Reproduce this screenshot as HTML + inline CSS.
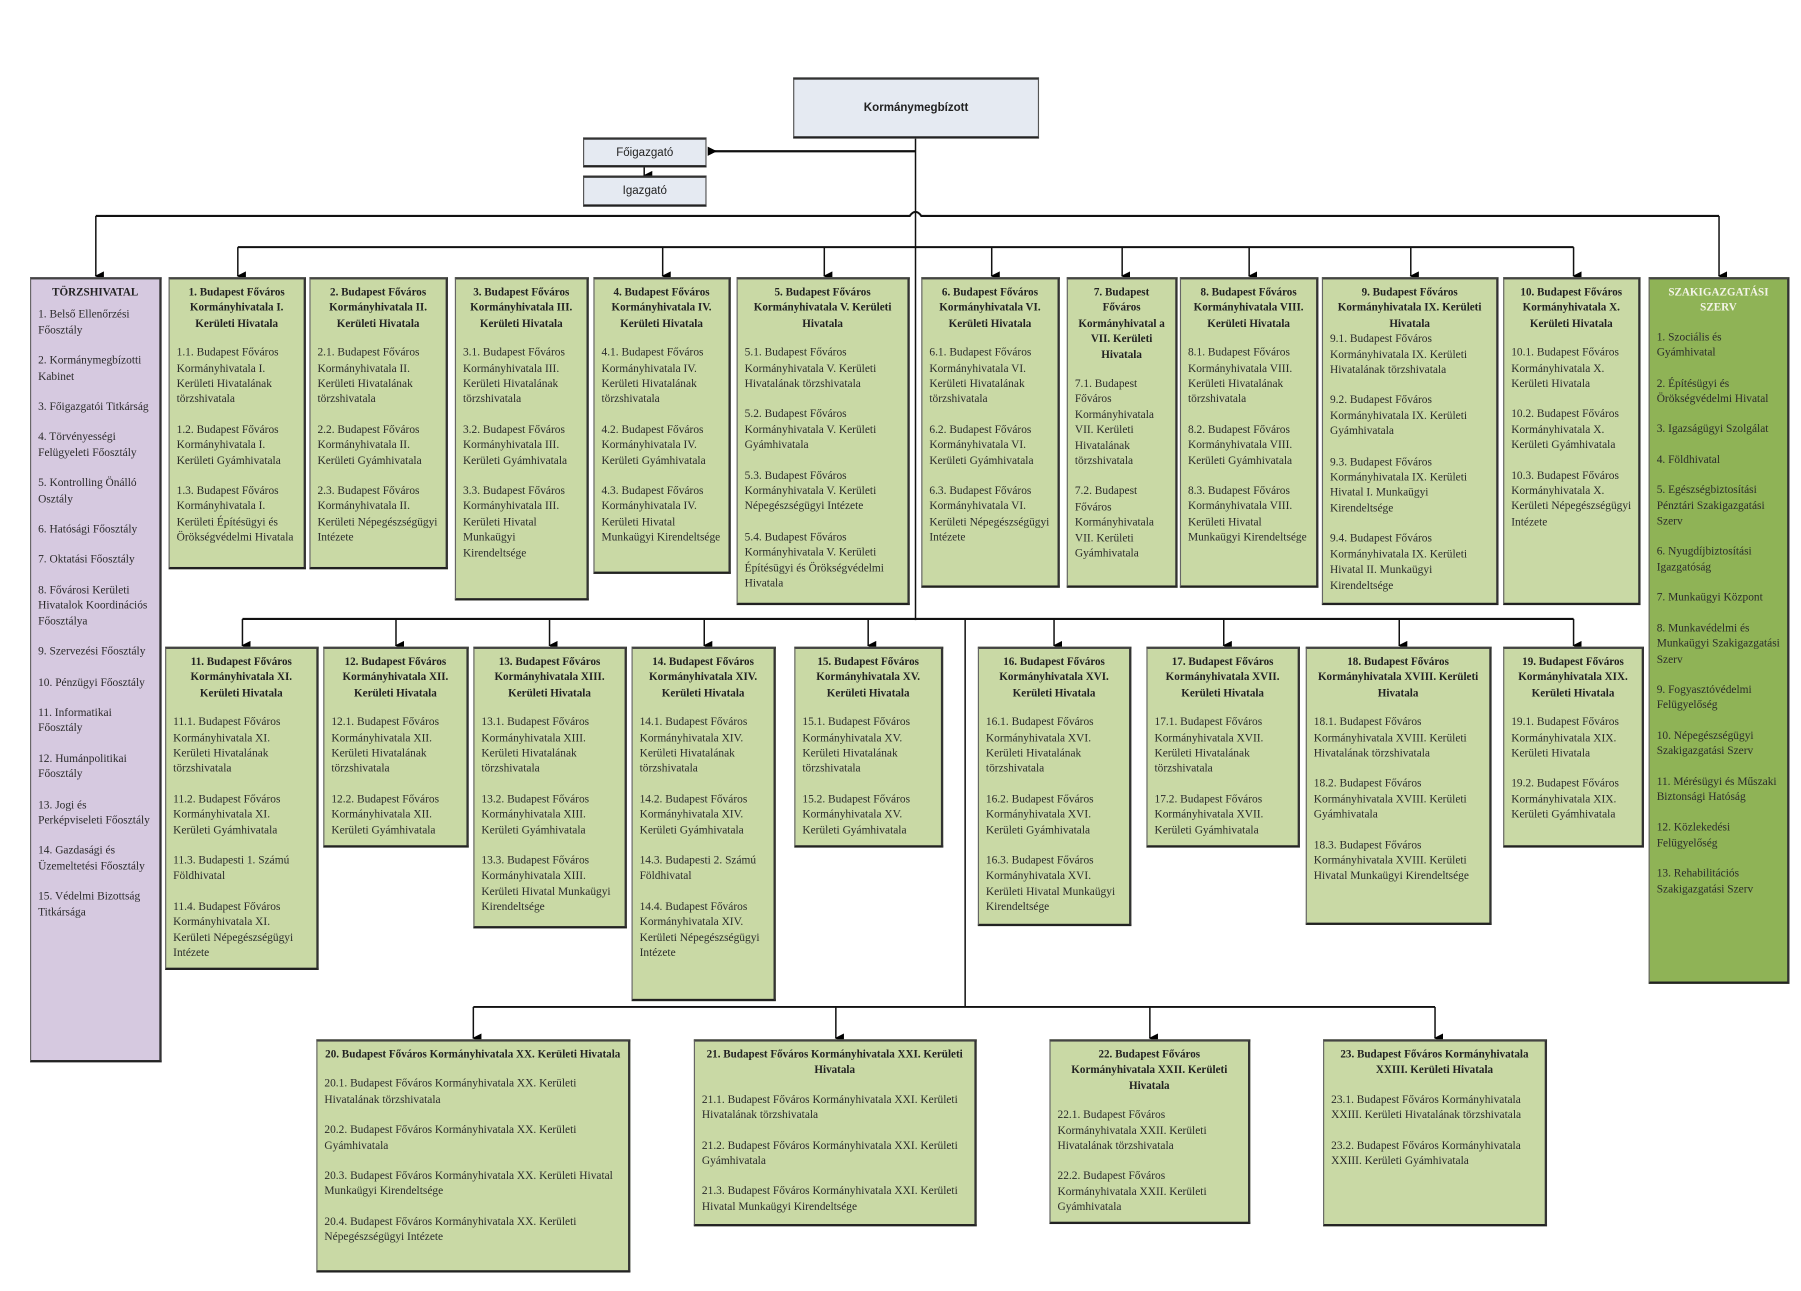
<!DOCTYPE html>
<html><head><meta charset="utf-8"><style>
html,body{margin:0;padding:0;background:#fff;}
body{width:1801px;height:1291px;overflow:hidden;position:relative;}
#c{position:absolute;left:0;top:0;width:1560px;height:1118px;transform:scale(1.15449,1.15474);transform-origin:0 0;}
.b{position:absolute;box-sizing:border-box;border:1px solid #666;border-top:2px solid #444;border-bottom:2px solid #222;border-right:2px solid #333;background:#c9d9a5;padding:5px 6px;font-family:"Liberation Serif",serif;font-size:9.9px;line-height:13.4px;color:#2a2a2a;overflow:hidden;}
.b .t{font-weight:bold;text-align:center;color:#222;font-size:9.6px;}
.b p{margin:13px 0 0 0;}
.b .t + p{margin-top:12px;}
.pu{background:#d6c9e0;}
.dg{background:#8fb356;}
.lb{position:absolute;box-sizing:border-box;border:1px solid #555;border-top:2px solid #333;border-bottom:2px solid #222;background:#e5eaf2;font-family:"Liberation Sans",sans-serif;font-size:10px;display:flex;align-items:center;justify-content:center;color:#222;}
svg{position:absolute;left:0;top:0;}
</style></head><body><div id="c">
<svg width="1560" height="1118" viewBox="0 0 1560 1118">
<defs><marker id="a" markerWidth="8" markerHeight="8" refX="4" refY="7" orient="auto" markerUnits="userSpaceOnUse"><path d="M0,0 L8,0 L4,8 z" fill="#000"/></marker>
<marker id="l" markerWidth="8" markerHeight="8" refX="7" refY="4" orient="auto" markerUnits="userSpaceOnUse"><path d="M8,0 L8,8 L0,4 z" fill="#000"/></marker></defs>
<g stroke="#111" stroke-width="1.3" fill="none">
<line x1="793" y1="120" x2="793" y2="537"/>
<line x1="793" y1="131" x2="614" y2="131" marker-end="url(#l)" stroke-width="2"/>
<line x1="558" y1="145" x2="558" y2="152" marker-end="url(#a)"/>
<path d="M83,187 H788 Q793,180 798,187 H1489" stroke-width="1.8"/>
<line x1="83" y1="187" x2="83" y2="239" marker-end="url(#a)"/>
<line x1="1489" y1="187" x2="1489" y2="239" marker-end="url(#a)"/>
<line x1="206" y1="214" x2="1363" y2="214" stroke-width="1.8"/>
<line x1="206" y1="214" x2="206" y2="239" marker-end="url(#a)"/>
<line x1="574" y1="214" x2="574" y2="239" marker-end="url(#a)"/>
<line x1="714" y1="214" x2="714" y2="239" marker-end="url(#a)"/>
<line x1="859" y1="214" x2="859" y2="239" marker-end="url(#a)"/>
<line x1="972" y1="214" x2="972" y2="239" marker-end="url(#a)"/>
<line x1="1082" y1="214" x2="1082" y2="239" marker-end="url(#a)"/>
<line x1="1222" y1="214" x2="1222" y2="239" marker-end="url(#a)"/>
<line x1="1363" y1="214" x2="1363" y2="239" marker-end="url(#a)"/>
<line x1="210" y1="536" x2="1363" y2="536" stroke-width="1.8"/>
<line x1="210" y1="536" x2="210" y2="559" marker-end="url(#a)"/>
<line x1="343" y1="536" x2="343" y2="559" marker-end="url(#a)"/>
<line x1="476" y1="536" x2="476" y2="559" marker-end="url(#a)"/>
<line x1="610" y1="536" x2="610" y2="559" marker-end="url(#a)"/>
<line x1="752" y1="536" x2="752" y2="559" marker-end="url(#a)"/>
<line x1="913" y1="536" x2="913" y2="559" marker-end="url(#a)"/>
<line x1="1060" y1="536" x2="1060" y2="559" marker-end="url(#a)"/>
<line x1="1212" y1="536" x2="1212" y2="559" marker-end="url(#a)"/>
<line x1="1363" y1="536" x2="1363" y2="559" marker-end="url(#a)"/>
<line x1="836" y1="536" x2="836" y2="872"/>
<line x1="410" y1="872" x2="1243" y2="872" stroke-width="1.6"/>
<line x1="410" y1="872" x2="410" y2="899" marker-end="url(#a)"/>
<line x1="724" y1="872" x2="724" y2="899" marker-end="url(#a)"/>
<line x1="996" y1="872" x2="996" y2="899" marker-end="url(#a)"/>
<line x1="1243" y1="872" x2="1243" y2="899" marker-end="url(#a)"/>
</g></svg>

<div class="lb" style="left:687px;top:67px;width:213px;height:53px;font-weight:bold;">Kormánymegbízott</div>
<div class="lb" style="left:505px;top:119px;width:107px;height:26px;">Főigazgató</div>
<div class="lb" style="left:505px;top:152px;width:107px;height:27px;">Igazgató</div>

<div class="b pu" style="left:26px;top:240px;width:114px;height:680px;"><div class="t">TÖRZSHIVATAL</div>
<p style="margin-top:6px">1. Belső Ellenőrzési Főosztály</p><p>2. Kormánymegbízotti Kabinet</p><p>3. Főigazgatói Titkárság</p><p>4. Törvényességi Felügyeleti Főosztály</p><p>5. Kontrolling Önálló Osztály</p><p>6. Hatósági Főosztály</p><p>7. Oktatási Főosztály</p><p>8. Fővárosi Kerületi Hivatalok Koordinációs Főosztálya</p><p>9. Szervezési Főosztály</p><p>10. Pénzügyi Főosztály</p><p>11. Informatikai Főosztály</p><p>12. Humánpolitikai Főosztály</p><p>13. Jogi és Perképviseleti Főosztály</p><p>14. Gazdasági és Üzemeltetési Főosztály</p><p>15. Védelmi Bizottság Titkársága</p></div>

<div class="b dg" style="left:1428px;top:240px;width:122px;height:612px;"><div class="t" style="color:#f4f4e8">SZAKIGAZGATÁSI SZERV</div>
<p>1. Szociális és Gyámhivatal</p><p>2. Építésügyi és Örökségvédelmi Hivatal</p><p>3. Igazságügyi Szolgálat</p><p>4. Földhivatal</p><p>5. Egészségbiztosítási Pénztári Szakigazgatási Szerv</p><p>6. Nyugdíjbiztosítási Igazgatóság</p><p>7. Munkaügyi Központ</p><p>8. Munkavédelmi és Munkaügyi Szakigazgatási Szerv</p><p>9. Fogyasztóvédelmi Felügyelőség</p><p>10. Népegészségügyi Szakigazgatási Szerv</p><p>11. Mérésügyi és Műszaki Biztonsági Hatóság</p><p>12. Közlekedési Felügyelőség</p><p>13. Rehabilitációs Szakigazgatási Szerv</p></div>

<div class="b" style="left:146px;top:240px;width:119px;height:253px;"><div class="t">1. Budapest Főváros Kormányhivatala I. Kerületi Hivatala</div>
<p>1.1. Budapest Főváros Kormányhivatala I. Kerületi Hivatalának törzshivatala</p><p>1.2. Budapest Főváros Kormányhivatala I. Kerületi Gyámhivatala</p><p>1.3. Budapest Főváros Kormányhivatala I. Kerületi Építésügyi és Örökségvédelmi Hivatala</p></div>

<div class="b" style="left:268px;top:240px;width:120px;height:253px;"><div class="t">2. Budapest Főváros Kormányhivatala II. Kerületi Hivatala</div>
<p>2.1. Budapest Főváros Kormányhivatala II. Kerületi Hivatalának törzshivatala</p><p>2.2. Budapest Főváros Kormányhivatala II. Kerületi Gyámhivatala</p><p>2.3. Budapest Főváros Kormányhivatala II. Kerületi Népegészségügyi Intézete</p></div>

<div class="b" style="left:394px;top:240px;width:116px;height:280px;"><div class="t">3. Budapest Főváros Kormányhivatala III. Kerületi Hivatala</div>
<p>3.1. Budapest Főváros Kormányhivatala III. Kerületi Hivatalának törzshivatala</p><p>3.2. Budapest Főváros Kormányhivatala III. Kerületi Gyámhivatala</p><p>3.3. Budapest Főváros Kormányhivatala III. Kerületi Hivatal Munkaügyi Kirendeltsége</p></div>

<div class="b" style="left:514px;top:240px;width:119px;height:257px;"><div class="t">4. Budapest Főváros Kormányhivatala IV. Kerületi Hivatala</div>
<p>4.1. Budapest Főváros Kormányhivatala IV. Kerületi Hivatalának törzshivatala</p><p>4.2. Budapest Főváros Kormányhivatala IV. Kerületi Gyámhivatala</p><p>4.3. Budapest Főváros Kormányhivatala IV. Kerületi Hivatal Munkaügyi Kirendeltsége</p></div>

<div class="b" style="left:638px;top:240px;width:150px;height:284px;"><div class="t">5. Budapest Főváros Kormányhivatala V. Kerületi Hivatala</div>
<p>5.1. Budapest Főváros Kormányhivatala V. Kerületi Hivatalának törzshivatala</p><p>5.2. Budapest Főváros Kormányhivatala V. Kerületi Gyámhivatala</p><p>5.3. Budapest Főváros Kormányhivatala V. Kerületi Népegészségügyi Intézete</p><p>5.4. Budapest Főváros Kormányhivatala V. Kerületi Építésügyi és Örökségvédelmi Hivatala</p></div>

<div class="b" style="left:798px;top:240px;width:120px;height:269px;"><div class="t">6. Budapest Főváros Kormányhivatala VI. Kerületi Hivatala</div>
<p>6.1. Budapest Főváros Kormányhivatala VI. Kerületi Hivatalának törzshivatala</p><p>6.2. Budapest Főváros Kormányhivatala VI. Kerületi Gyámhivatala</p><p>6.3. Budapest Főváros Kormányhivatala VI. Kerületi Népegészségügyi Intézete</p></div>

<div class="b" style="left:924px;top:240px;width:96px;height:269px;"><div class="t">7. Budapest Főváros Kormányhivatal a VII. Kerületi Hivatala</div>
<p>7.1. Budapest Főváros Kormányhivatala VII. Kerületi Hivatalának törzshivatala</p><p>7.2. Budapest Főváros Kormányhivatala VII. Kerületi Gyámhivatala</p></div>

<div class="b" style="left:1022px;top:240px;width:120px;height:269px;"><div class="t">8. Budapest Főváros Kormányhivatala VIII. Kerületi Hivatala</div>
<p>8.1. Budapest Főváros Kormányhivatala VIII. Kerületi Hivatalának törzshivatala</p><p>8.2. Budapest Főváros Kormányhivatala VIII. Kerületi Gyámhivatala</p><p>8.3. Budapest Főváros Kormányhivatala VIII. Kerületi Hivatal Munkaügyi Kirendeltsége</p></div>

<div class="b" style="left:1145px;top:240px;width:153px;height:284px;"><div class="t">9. Budapest Főváros Kormányhivatala IX. Kerületi Hivatala</div>
<p style="margin-top:0">9.1. Budapest Főváros Kormányhivatala IX. Kerületi Hivatalának törzshivatala</p><p>9.2. Budapest Főváros Kormányhivatala IX. Kerületi Gyámhivatala</p><p>9.3. Budapest Főváros Kormányhivatala IX. Kerületi Hivatal I. Munkaügyi Kirendeltsége</p><p>9.4. Budapest Főváros Kormányhivatala IX. Kerületi Hivatal II. Munkaügyi Kirendeltsége</p></div>

<div class="b" style="left:1302px;top:240px;width:119px;height:284px;"><div class="t">10. Budapest Főváros Kormányhivatala X. Kerületi Hivatala</div>
<p>10.1. Budapest Főváros Kormányhivatala X. Kerületi Hivatala</p><p>10.2. Budapest Főváros Kormányhivatala X. Kerületi Gyámhivatala</p><p>10.3. Budapest Főváros Kormányhivatala X. Kerületi Népegészségügyi Intézete</p></div>

<div class="b" style="left:143px;top:560px;width:133px;height:280px;"><div class="t">11. Budapest Főváros Kormányhivatala XI. Kerületi Hivatala</div>
<p>11.1. Budapest Főváros Kormányhivatala XI. Kerületi Hivatalának törzshivatala</p><p>11.2. Budapest Főváros Kormányhivatala XI. Kerületi Gyámhivatala</p><p>11.3. Budapesti 1. Számú Földhivatal</p><p>11.4. Budapest Főváros Kormányhivatala XI. Kerületi Népegészségügyi Intézete</p></div>

<div class="b" style="left:280px;top:560px;width:126px;height:174px;"><div class="t">12. Budapest Főváros Kormányhivatala XII. Kerületi Hivatala</div>
<p>12.1. Budapest Főváros Kormányhivatala XII. Kerületi Hivatalának törzshivatala</p><p>12.2. Budapest Főváros Kormányhivatala XII. Kerületi Gyámhivatala</p></div>

<div class="b" style="left:410px;top:560px;width:133px;height:244px;"><div class="t">13. Budapest Főváros Kormányhivatala XIII. Kerületi Hivatala</div>
<p>13.1. Budapest Főváros Kormányhivatala XIII. Kerületi Hivatalának törzshivatala</p><p>13.2. Budapest Főváros Kormányhivatala XIII. Kerületi Gyámhivatala</p><p>13.3. Budapest Főváros Kormányhivatala XIII. Kerületi Hivatal Munkaügyi Kirendeltsége</p></div>

<div class="b" style="left:547px;top:560px;width:125px;height:307px;"><div class="t">14. Budapest Főváros Kormányhivatala XIV. Kerületi Hivatala</div>
<p>14.1. Budapest Főváros Kormányhivatala XIV. Kerületi Hivatalának törzshivatala</p><p>14.2. Budapest Főváros Kormányhivatala XIV. Kerületi Gyámhivatala</p><p>14.3. Budapesti 2. Számú Földhivatal</p><p>14.4. Budapest Főváros Kormányhivatala XIV. Kerületi Népegészségügyi Intézete</p></div>

<div class="b" style="left:688px;top:560px;width:129px;height:174px;"><div class="t">15. Budapest Főváros Kormányhivatala XV. Kerületi Hivatala</div>
<p>15.1. Budapest Főváros Kormányhivatala XV. Kerületi Hivatalának törzshivatala</p><p>15.2. Budapest Főváros Kormányhivatala XV. Kerületi Gyámhivatala</p></div>

<div class="b" style="left:847px;top:560px;width:133px;height:242px;"><div class="t">16. Budapest Főváros Kormányhivatala XVI. Kerületi Hivatala</div>
<p>16.1. Budapest Főváros Kormányhivatala XVI. Kerületi Hivatalának törzshivatala</p><p>16.2. Budapest Főváros Kormányhivatala XVI. Kerületi Gyámhivatala</p><p>16.3. Budapest Főváros Kormányhivatala XVI. Kerületi Hivatal Munkaügyi Kirendeltsége</p></div>

<div class="b" style="left:993px;top:560px;width:133px;height:174px;"><div class="t">17. Budapest Főváros Kormányhivatala XVII. Kerületi Hivatala</div>
<p>17.1. Budapest Főváros Kormányhivatala XVII. Kerületi Hivatalának törzshivatala</p><p>17.2. Budapest Főváros Kormányhivatala XVII. Kerületi Gyámhivatala</p></div>

<div class="b" style="left:1131px;top:560px;width:161px;height:241px;"><div class="t">18. Budapest Főváros Kormányhivatala XVIII. Kerületi Hivatala</div>
<p>18.1. Budapest Főváros Kormányhivatala XVIII. Kerületi Hivatalának törzshivatala</p><p>18.2. Budapest Főváros Kormányhivatala XVIII. Kerületi Gyámhivatala</p><p>18.3. Budapest Főváros Kormányhivatala XVIII. Kerületi Hivatal Munkaügyi Kirendeltsége</p></div>

<div class="b" style="left:1302px;top:560px;width:122px;height:174px;"><div class="t">19. Budapest Főváros Kormányhivatala XIX. Kerületi Hivatala</div>
<p>19.1. Budapest Főváros Kormányhivatala XIX. Kerületi Hivatala</p><p>19.2. Budapest Főváros Kormányhivatala XIX. Kerületi Gyámhivatala</p></div>

<div class="b" style="left:274px;top:900px;width:272px;height:202px;"><div class="t">20. Budapest Főváros Kormányhivatala XX. Kerületi Hivatala</div>
<p>20.1. Budapest Főváros Kormányhivatala XX. Kerületi Hivatalának törzshivatala</p><p>20.2. Budapest Főváros Kormányhivatala XX. Kerületi Gyámhivatala</p><p>20.3. Budapest Főváros Kormányhivatala XX. Kerületi Hivatal Munkaügyi Kirendeltsége</p><p>20.4. Budapest Főváros Kormányhivatala XX. Kerületi Népegészségügyi Intézete</p></div>

<div class="b" style="left:601px;top:900px;width:245px;height:162px;"><div class="t">21. Budapest Főváros Kormányhivatala XXI. Kerületi Hivatala</div>
<p>21.1. Budapest Főváros Kormányhivatala XXI. Kerületi Hivatalának törzshivatala</p><p>21.2. Budapest Főváros Kormányhivatala XXI. Kerületi Gyámhivatala</p><p>21.3. Budapest Főváros Kormányhivatala XXI. Kerületi Hivatal Munkaügyi Kirendeltsége</p></div>

<div class="b" style="left:909px;top:900px;width:174px;height:160px;"><div class="t">22. Budapest Főváros Kormányhivatala XXII. Kerületi Hivatala</div>
<p>22.1. Budapest Főváros Kormányhivatala XXII. Kerületi Hivatalának törzshivatala</p><p>22.2. Budapest Főváros Kormányhivatala XXII. Kerületi Gyámhivatala</p></div>

<div class="b" style="left:1146px;top:900px;width:194px;height:162px;"><div class="t">23. Budapest Főváros Kormányhivatala XXIII. Kerületi Hivatala</div>
<p>23.1. Budapest Főváros Kormányhivatala XXIII. Kerületi Hivatalának törzshivatala</p><p>23.2. Budapest Főváros Kormányhivatala XXIII. Kerületi Gyámhivatala</p></div>
</div></body></html>
